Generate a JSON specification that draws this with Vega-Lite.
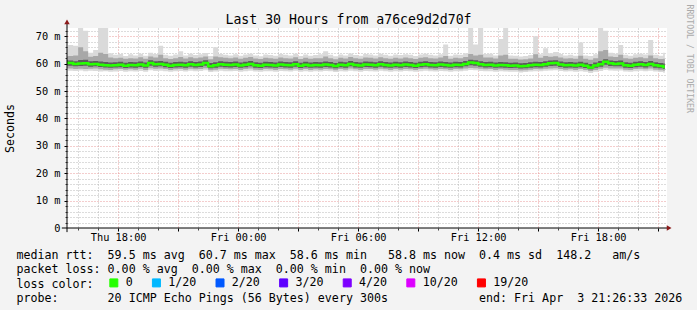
{
"$schema": "https://vega.github.io/schema/vega-lite/v6.json",
"width": 600, "height": 200,
"autosize": {"type": "none"},
"padding": {"left": 67, "top": 28, "right": 30, "bottom": 82},
"background": "#f3f3f3",
"config": {"view": {"fill": "#ffffff", "stroke": null},
  "axis": {"labelFont": "DejaVu Sans Mono", "titleFont": "DejaVu Sans Mono", "labelColor": "#000000", "titleColor": "#000000", "titleFontWeight": "normal"}},
"datasets": {"ping": [
{"t":"2026-04-02T15:15:00Z","m":60.3,"a":57.6,"b":65.5,"c":58.3,"d":62.6,"e":59.3,"f":61.2},
{"t":"2026-04-02T15:30:00Z","m":60.2,"a":57.4,"b":66.8,"c":58.2,"d":62.8,"e":59.2,"f":61.1},
{"t":"2026-04-02T15:45:00Z","m":59.9,"a":57.3,"b":66.5,"c":58.0,"d":63.0,"e":59.0,"f":60.9},
{"t":"2026-04-02T16:00:00Z","m":60.0,"a":57.5,"b":73.0,"c":58.1,"d":66.0,"e":59.1,"f":61.3},
{"t":"2026-04-02T16:15:00Z","m":60.1,"a":57.2,"b":72.0,"c":58.0,"d":64.5,"e":59.2,"f":61.4},
{"t":"2026-04-02T16:30:00Z","m":59.8,"a":57.4,"b":64.0,"c":58.1,"d":62.5,"e":58.9,"f":60.9},
{"t":"2026-04-02T16:45:00Z","m":59.9,"a":57.3,"b":65.0,"c":58.2,"d":62.8,"e":59.0,"f":61.0},
{"t":"2026-04-02T17:00:00Z","m":59.6,"a":57.1,"b":73.0,"c":57.9,"d":64.0,"e":58.8,"f":60.8},
{"t":"2026-04-02T17:15:00Z","m":59.4,"a":57.2,"b":73.0,"c":57.8,"d":63.5,"e":58.6,"f":60.6},
{"t":"2026-04-02T17:30:00Z","m":59.3,"a":57.0,"b":63.8,"c":57.7,"d":62.2,"e":58.5,"f":60.4},
{"t":"2026-04-02T17:45:00Z","m":59.4,"a":57.1,"b":63.2,"c":57.9,"d":62.0,"e":58.6,"f":60.5},
{"t":"2026-04-02T18:00:00Z","m":59.6,"a":57.3,"b":63.5,"c":58.0,"d":62.1,"e":58.7,"f":60.7},
{"t":"2026-04-02T18:15:00Z","m":59.2,"a":57.0,"b":62.8,"c":57.8,"d":61.8,"e":58.4,"f":60.3},
{"t":"2026-04-02T18:30:00Z","m":59.5,"a":57.2,"b":63.4,"c":57.9,"d":62.0,"e":58.6,"f":60.6},
{"t":"2026-04-02T18:45:00Z","m":59.4,"a":57.1,"b":63.0,"c":57.8,"d":61.9,"e":58.5,"f":60.5},
{"t":"2026-04-02T19:00:00Z","m":59.7,"a":57.3,"b":63.6,"c":58.1,"d":62.3,"e":58.8,"f":60.8},
{"t":"2026-04-02T19:15:00Z","m":59.3,"a":57.0,"b":62.9,"c":57.7,"d":61.8,"e":58.5,"f":60.4},
{"t":"2026-04-02T19:30:00Z","m":60.2,"a":57.6,"b":64.0,"c":58.3,"d":62.6,"e":59.2,"f":61.2},
{"t":"2026-04-02T19:45:00Z","m":59.8,"a":57.3,"b":63.5,"c":58.1,"d":62.2,"e":58.9,"f":60.9},
{"t":"2026-04-02T20:00:00Z","m":59.9,"a":57.4,"b":66.5,"c":58.2,"d":63.2,"e":59.0,"f":61.0},
{"t":"2026-04-02T20:15:00Z","m":59.6,"a":57.2,"b":63.2,"c":58.0,"d":62.0,"e":58.7,"f":60.7},
{"t":"2026-04-02T20:30:00Z","m":59.2,"a":57.0,"b":62.9,"c":57.7,"d":61.7,"e":58.4,"f":60.3},
{"t":"2026-04-02T20:45:00Z","m":59.5,"a":57.2,"b":63.3,"c":57.9,"d":62.0,"e":58.6,"f":60.6},
{"t":"2026-04-02T21:00:00Z","m":59.6,"a":57.3,"b":64.5,"c":58.0,"d":62.4,"e":58.7,"f":60.7},
{"t":"2026-04-02T21:15:00Z","m":59.4,"a":57.1,"b":63.0,"c":57.8,"d":61.9,"e":58.5,"f":60.5},
{"t":"2026-04-02T21:30:00Z","m":59.8,"a":57.4,"b":63.6,"c":58.1,"d":62.3,"e":58.9,"f":60.9},
{"t":"2026-04-02T21:45:00Z","m":59.5,"a":57.2,"b":63.1,"c":57.9,"d":62.0,"e":58.6,"f":60.6},
{"t":"2026-04-02T22:00:00Z","m":59.7,"a":57.3,"b":63.4,"c":58.0,"d":62.2,"e":58.8,"f":60.8},
{"t":"2026-04-02T22:15:00Z","m":60.2,"a":57.6,"b":63.9,"c":58.3,"d":62.6,"e":59.2,"f":61.2},
{"t":"2026-04-02T22:30:00Z","m":59.0,"a":56.9,"b":62.8,"c":57.6,"d":61.6,"e":58.3,"f":60.2},
{"t":"2026-04-02T22:45:00Z","m":59.4,"a":57.1,"b":66.0,"c":57.8,"d":62.6,"e":58.5,"f":60.5},
{"t":"2026-04-02T23:00:00Z","m":59.8,"a":57.4,"b":63.5,"c":58.1,"d":62.3,"e":58.9,"f":60.9},
{"t":"2026-04-02T23:15:00Z","m":59.6,"a":57.2,"b":63.2,"c":58.0,"d":62.1,"e":58.7,"f":60.7},
{"t":"2026-04-02T23:30:00Z","m":59.5,"a":57.2,"b":63.0,"c":57.9,"d":62.0,"e":58.6,"f":60.6},
{"t":"2026-04-02T23:45:00Z","m":59.7,"a":57.3,"b":63.4,"c":58.0,"d":62.2,"e":58.8,"f":60.8},
{"t":"2026-04-03T00:00:00Z","m":59.3,"a":57.0,"b":62.9,"c":57.7,"d":61.8,"e":58.5,"f":60.4},
{"t":"2026-04-03T00:15:00Z","m":59.6,"a":57.2,"b":63.3,"c":58.0,"d":62.1,"e":58.7,"f":60.7},
{"t":"2026-04-03T00:30:00Z","m":59.9,"a":57.4,"b":63.6,"c":58.2,"d":62.4,"e":59.0,"f":61.0},
{"t":"2026-04-03T00:45:00Z","m":59.4,"a":57.1,"b":63.0,"c":57.8,"d":61.9,"e":58.5,"f":60.5},
{"t":"2026-04-03T01:00:00Z","m":59.2,"a":57.0,"b":62.7,"c":57.7,"d":61.7,"e":58.4,"f":60.3},
{"t":"2026-04-03T01:15:00Z","m":59.6,"a":57.2,"b":63.3,"c":58.0,"d":62.1,"e":58.7,"f":60.7},
{"t":"2026-04-03T01:30:00Z","m":59.5,"a":57.2,"b":63.1,"c":57.9,"d":62.0,"e":58.6,"f":60.6},
{"t":"2026-04-03T01:45:00Z","m":59.3,"a":57.0,"b":62.9,"c":57.7,"d":61.8,"e":58.5,"f":60.4},
{"t":"2026-04-03T02:00:00Z","m":59.7,"a":57.3,"b":63.5,"c":58.0,"d":62.2,"e":58.8,"f":60.8},
{"t":"2026-04-03T02:15:00Z","m":59.5,"a":57.2,"b":63.2,"c":57.9,"d":62.0,"e":58.6,"f":60.6},
{"t":"2026-04-03T02:30:00Z","m":59.4,"a":57.1,"b":63.0,"c":57.8,"d":61.9,"e":58.5,"f":60.5},
{"t":"2026-04-03T02:45:00Z","m":59.8,"a":57.4,"b":63.6,"c":58.1,"d":62.3,"e":58.9,"f":60.9},
{"t":"2026-04-03T03:00:00Z","m":59.2,"a":57.0,"b":62.8,"c":57.7,"d":61.7,"e":58.4,"f":60.3},
{"t":"2026-04-03T03:15:00Z","m":59.6,"a":57.2,"b":63.3,"c":58.0,"d":62.1,"e":58.7,"f":60.7},
{"t":"2026-04-03T03:30:00Z","m":59.3,"a":57.0,"b":62.9,"c":57.7,"d":61.8,"e":58.5,"f":60.4},
{"t":"2026-04-03T03:45:00Z","m":59.5,"a":57.2,"b":63.1,"c":57.9,"d":62.0,"e":58.6,"f":60.6},
{"t":"2026-04-03T04:00:00Z","m":59.4,"a":57.1,"b":63.4,"c":57.8,"d":62.0,"e":58.5,"f":60.5},
{"t":"2026-04-03T04:15:00Z","m":59.7,"a":57.3,"b":64.5,"c":58.0,"d":62.6,"e":58.8,"f":60.8},
{"t":"2026-04-03T04:30:00Z","m":59.5,"a":57.2,"b":63.2,"c":57.9,"d":62.0,"e":58.6,"f":60.6},
{"t":"2026-04-03T04:45:00Z","m":59.1,"a":56.9,"b":62.7,"c":57.6,"d":61.6,"e":58.3,"f":60.2},
{"t":"2026-04-03T05:00:00Z","m":59.6,"a":57.2,"b":63.3,"c":58.0,"d":62.1,"e":58.7,"f":60.7},
{"t":"2026-04-03T05:15:00Z","m":59.4,"a":57.1,"b":63.0,"c":57.8,"d":61.9,"e":58.5,"f":60.5},
{"t":"2026-04-03T05:30:00Z","m":59.9,"a":57.4,"b":63.7,"c":58.2,"d":62.4,"e":59.0,"f":61.0},
{"t":"2026-04-03T05:45:00Z","m":59.5,"a":57.2,"b":63.1,"c":57.9,"d":62.0,"e":58.6,"f":60.6},
{"t":"2026-04-03T06:00:00Z","m":59.3,"a":57.0,"b":62.9,"c":57.7,"d":61.8,"e":58.5,"f":60.4},
{"t":"2026-04-03T06:15:00Z","m":59.7,"a":57.3,"b":63.5,"c":58.0,"d":62.2,"e":58.8,"f":60.8},
{"t":"2026-04-03T06:30:00Z","m":59.6,"a":57.2,"b":63.3,"c":58.0,"d":62.1,"e":58.7,"f":60.7},
{"t":"2026-04-03T06:45:00Z","m":59.4,"a":57.1,"b":63.0,"c":57.8,"d":61.9,"e":58.5,"f":60.5},
{"t":"2026-04-03T07:00:00Z","m":59.8,"a":57.4,"b":63.6,"c":58.1,"d":62.3,"e":58.9,"f":60.9},
{"t":"2026-04-03T07:15:00Z","m":59.5,"a":57.2,"b":63.2,"c":57.9,"d":62.0,"e":58.6,"f":60.6},
{"t":"2026-04-03T07:30:00Z","m":59.3,"a":57.0,"b":62.9,"c":57.7,"d":61.8,"e":58.5,"f":60.4},
{"t":"2026-04-03T07:45:00Z","m":59.6,"a":57.2,"b":63.3,"c":58.0,"d":62.1,"e":58.7,"f":60.7},
{"t":"2026-04-03T08:00:00Z","m":59.4,"a":57.1,"b":63.1,"c":57.8,"d":61.9,"e":58.5,"f":60.5},
{"t":"2026-04-03T08:15:00Z","m":59.7,"a":57.3,"b":63.4,"c":58.0,"d":62.2,"e":58.8,"f":60.8},
{"t":"2026-04-03T08:30:00Z","m":59.5,"a":57.2,"b":63.2,"c":57.9,"d":62.0,"e":58.6,"f":60.6},
{"t":"2026-04-03T08:45:00Z","m":59.2,"a":57.0,"b":62.8,"c":57.7,"d":61.7,"e":58.4,"f":60.3},
{"t":"2026-04-03T09:00:00Z","m":59.6,"a":57.2,"b":63.3,"c":58.0,"d":62.1,"e":58.7,"f":60.7},
{"t":"2026-04-03T09:15:00Z","m":59.8,"a":57.4,"b":63.6,"c":58.1,"d":62.3,"e":58.9,"f":60.9},
{"t":"2026-04-03T09:30:00Z","m":59.5,"a":57.2,"b":63.2,"c":57.9,"d":62.0,"e":58.6,"f":60.6},
{"t":"2026-04-03T09:45:00Z","m":59.4,"a":57.1,"b":63.0,"c":57.8,"d":61.9,"e":58.5,"f":60.5},
{"t":"2026-04-03T10:00:00Z","m":59.7,"a":57.3,"b":63.4,"c":58.0,"d":62.2,"e":58.8,"f":60.8},
{"t":"2026-04-03T10:15:00Z","m":59.5,"a":57.2,"b":67.0,"c":57.9,"d":62.8,"e":58.6,"f":60.6},
{"t":"2026-04-03T10:30:00Z","m":59.3,"a":57.0,"b":62.9,"c":57.7,"d":61.8,"e":58.5,"f":60.4},
{"t":"2026-04-03T10:45:00Z","m":59.6,"a":57.2,"b":63.3,"c":58.0,"d":62.1,"e":58.7,"f":60.7},
{"t":"2026-04-03T11:00:00Z","m":59.5,"a":57.2,"b":63.2,"c":57.9,"d":62.0,"e":58.6,"f":60.6},
{"t":"2026-04-03T11:15:00Z","m":59.9,"a":57.4,"b":63.8,"c":58.2,"d":62.4,"e":59.0,"f":61.0},
{"t":"2026-04-03T11:30:00Z","m":60.4,"a":57.7,"b":73.0,"c":58.4,"d":63.5,"e":59.4,"f":61.4},
{"t":"2026-04-03T11:45:00Z","m":60.2,"a":57.6,"b":67.0,"c":58.3,"d":63.0,"e":59.2,"f":61.2},
{"t":"2026-04-03T12:00:00Z","m":59.8,"a":57.3,"b":73.0,"c":58.1,"d":63.2,"e":58.9,"f":60.9},
{"t":"2026-04-03T12:15:00Z","m":59.5,"a":57.2,"b":63.5,"c":57.9,"d":62.2,"e":58.6,"f":60.6},
{"t":"2026-04-03T12:30:00Z","m":59.6,"a":57.2,"b":63.6,"c":58.0,"d":62.2,"e":58.7,"f":60.7},
{"t":"2026-04-03T12:45:00Z","m":59.3,"a":57.0,"b":63.0,"c":57.7,"d":61.9,"e":58.5,"f":60.4},
{"t":"2026-04-03T13:00:00Z","m":59.5,"a":57.2,"b":69.0,"c":57.9,"d":63.0,"e":58.6,"f":60.6},
{"t":"2026-04-03T13:15:00Z","m":59.4,"a":57.1,"b":73.0,"c":57.8,"d":63.2,"e":58.5,"f":60.5},
{"t":"2026-04-03T13:30:00Z","m":59.2,"a":57.0,"b":63.0,"c":57.7,"d":61.8,"e":58.4,"f":60.3},
{"t":"2026-04-03T13:45:00Z","m":59.3,"a":57.0,"b":62.9,"c":57.7,"d":61.8,"e":58.5,"f":60.4},
{"t":"2026-04-03T14:00:00Z","m":59.0,"a":56.8,"b":62.6,"c":57.5,"d":61.5,"e":58.2,"f":60.1},
{"t":"2026-04-03T14:15:00Z","m":59.1,"a":56.9,"b":62.8,"c":57.6,"d":61.6,"e":58.3,"f":60.2},
{"t":"2026-04-03T14:30:00Z","m":59.4,"a":57.1,"b":63.1,"c":57.8,"d":61.9,"e":58.5,"f":60.5},
{"t":"2026-04-03T14:45:00Z","m":59.6,"a":57.2,"b":70.0,"c":58.0,"d":63.4,"e":58.7,"f":60.7},
{"t":"2026-04-03T15:00:00Z","m":59.5,"a":57.2,"b":63.4,"c":57.9,"d":62.1,"e":58.6,"f":60.6},
{"t":"2026-04-03T15:15:00Z","m":59.8,"a":57.4,"b":65.6,"c":58.1,"d":62.8,"e":58.9,"f":60.9},
{"t":"2026-04-03T15:30:00Z","m":60.1,"a":57.5,"b":63.8,"c":58.2,"d":62.5,"e":59.1,"f":61.1},
{"t":"2026-04-03T15:45:00Z","m":60.2,"a":57.6,"b":64.2,"c":58.3,"d":62.7,"e":59.2,"f":61.2},
{"t":"2026-04-03T16:00:00Z","m":59.7,"a":57.3,"b":63.5,"c":58.0,"d":62.2,"e":58.8,"f":60.8},
{"t":"2026-04-03T16:15:00Z","m":59.4,"a":57.1,"b":63.0,"c":57.8,"d":61.9,"e":58.5,"f":60.5},
{"t":"2026-04-03T16:30:00Z","m":59.5,"a":57.2,"b":63.2,"c":57.9,"d":62.0,"e":58.6,"f":60.6},
{"t":"2026-04-03T16:45:00Z","m":59.3,"a":57.0,"b":62.9,"c":57.7,"d":61.8,"e":58.5,"f":60.4},
{"t":"2026-04-03T17:00:00Z","m":59.6,"a":57.2,"b":67.7,"c":58.0,"d":62.9,"e":58.7,"f":60.7},
{"t":"2026-04-03T17:15:00Z","m":59.2,"a":57.0,"b":63.0,"c":57.7,"d":61.8,"e":58.4,"f":60.3},
{"t":"2026-04-03T17:30:00Z","m":58.6,"a":56.6,"b":62.8,"c":57.3,"d":61.4,"e":57.9,"f":59.9},
{"t":"2026-04-03T17:45:00Z","m":59.3,"a":57.0,"b":63.4,"c":57.7,"d":62.0,"e":58.5,"f":60.4},
{"t":"2026-04-03T18:00:00Z","m":59.8,"a":57.3,"b":73.0,"c":58.1,"d":64.5,"e":58.9,"f":61.0},
{"t":"2026-04-03T18:15:00Z","m":60.7,"a":57.8,"b":72.0,"c":58.5,"d":65.0,"e":59.6,"f":61.6},
{"t":"2026-04-03T18:30:00Z","m":60.1,"a":57.5,"b":64.0,"c":58.2,"d":62.6,"e":59.1,"f":61.1},
{"t":"2026-04-03T18:45:00Z","m":59.9,"a":57.4,"b":63.6,"c":58.2,"d":62.4,"e":59.0,"f":61.0},
{"t":"2026-04-03T19:00:00Z","m":60.0,"a":57.5,"b":66.8,"c":58.2,"d":63.2,"e":59.0,"f":61.1},
{"t":"2026-04-03T19:15:00Z","m":59.4,"a":57.1,"b":63.2,"c":57.8,"d":62.0,"e":58.5,"f":60.5},
{"t":"2026-04-03T19:30:00Z","m":59.2,"a":57.0,"b":62.9,"c":57.7,"d":61.8,"e":58.4,"f":60.3},
{"t":"2026-04-03T19:45:00Z","m":59.6,"a":57.2,"b":63.4,"c":58.0,"d":62.1,"e":58.7,"f":60.7},
{"t":"2026-04-03T20:00:00Z","m":59.8,"a":57.4,"b":63.6,"c":58.1,"d":62.3,"e":58.9,"f":60.9},
{"t":"2026-04-03T20:15:00Z","m":59.5,"a":57.2,"b":63.3,"c":57.9,"d":62.0,"e":58.6,"f":60.6},
{"t":"2026-04-03T20:30:00Z","m":59.9,"a":57.4,"b":68.6,"c":58.2,"d":63.0,"e":59.0,"f":61.0},
{"t":"2026-04-03T20:45:00Z","m":59.4,"a":57.1,"b":63.2,"c":57.8,"d":62.0,"e":58.5,"f":60.5},
{"t":"2026-04-03T21:00:00Z","m":59.1,"a":56.9,"b":62.9,"c":57.6,"d":61.7,"e":58.3,"f":60.2},
{"t":"2026-04-03T21:15:00Z","m":58.8,"a":56.7,"b":64.0,"c":57.4,"d":61.8,"e":58.0,"f":60.0},
{"t":"2026-04-03T21:20:00Z","m":58.8,"a":56.7,"b":64.0,"c":57.4,"d":61.8,"e":58.0,"f":60.0}
]},
"data": {"name": "ping"},
"layer": [
 {"mark": {"type": "area", "interpolate": "step-after", "color": "#dadada", "clip": true},
  "encoding": {
   "x": {"field": "t", "type": "temporal",
     "scale": {"type": "utc", "domain": [1775143593000, 1775251593000]},
     "axis": {"orient": "bottom", "values": [1775145600000, 1775149200000, 1775156400000, 1775160000000, 1775167200000, 1775170800000, 1775178000000, 1775181600000, 1775188800000, 1775192400000, 1775199600000, 1775203200000, 1775210400000, 1775214000000, 1775221200000, 1775224800000, 1775232000000, 1775235600000, 1775242800000, 1775246400000], "grid": true, "gridColor": "#b8b8b8", "gridDash": [1, 2], "labels": false, "ticks": true, "tickSize": 2, "tickColor": "#444444", "domain": false, "title": null}},
   "y": {"field": "a", "type": "quantitative", "scale": {"domain": [0, 73], "nice": false, "zero": false},
     "axis": {"orient": "left", "values": [2,4,6,8,12,14,16,18,22,24,26,28,32,34,36,38,42,44,46,48,52,54,56,58,62,64,66,68,72], "grid": true, "gridColor": "#b8b8b8", "gridDash": [1, 2], "labels": false, "ticks": true, "tickSize": 2, "tickColor": "#444444", "domain": false, "title": null}},
   "y2": {"field": "b"}}},
 {"mark": {"type": "area", "interpolate": "step-after", "color": "#a8a8a8", "clip": true},
  "encoding": {
   "x": {"field": "t", "type": "temporal",
     "axis": {"orient": "bottom", "values": [1775152800000, 1775163600000, 1775174400000, 1775185200000, 1775196000000, 1775206800000, 1775217600000, 1775228400000, 1775239200000, 1775250000000], "grid": true, "gridColor": "#e89a9a", "gridDash": [1, 2], "labels": false, "ticks": true, "tickSize": 3, "tickColor": "#000000", "domain": false, "title": null}},
   "y": {"field": "c", "type": "quantitative",
     "axis": {"orient": "left", "values": [10,20,30,40,50,60,70], "grid": true, "gridColor": "#e89a9a", "gridDash": [1, 2], "labels": false, "ticks": true, "tickSize": 3, "tickColor": "#000000", "domain": false, "title": null}},
   "y2": {"field": "d"}}},
 {"mark": {"type": "area", "interpolate": "step-after", "color": "#5c5c5c", "clip": true},
  "encoding": {
   "x": {"field": "t", "type": "temporal",
     "axis": {"orient": "bottom", "values": [1775152800000, 1775174400000, 1775196000000, 1775217600000, 1775239200000], "format": "%a %H:%M", "labelFontSize": 10.3, "labelPadding": 4, "ticks": false, "grid": false, "domain": false, "zindex": 1,
       "title": ["median rtt:\u00a0\u00a059.5 ms avg\u00a0\u00a060.7 ms max\u00a0\u00a058.6 ms min\u00a0\u00a0\u00a058.8 ms now\u00a0\u00a00.4 ms sd\u00a0\u00a0148.2\u00a0\u00a0\u00a0am/s", "packet loss: 0.00 % avg\u00a0\u00a00.00 % max\u00a0\u00a00.00 % min\u00a0\u00a00.00 % now", "loss color:", "probe:\u00a0\u00a0\u00a0\u00a0\u00a0\u00a0\u00a020 ICMP Echo Pings (56 Bytes) every 300s\u00a0\u00a0\u00a0\u00a0\u00a0\u00a0\u00a0\u00a0\u00a0\u00a0\u00a0\u00a0\u00a0end: Fri Apr\u00a0\u00a03 21:26:33 2026"],
       "titleFontSize": 11.65, "titleAnchor": "start", "titleAlign": "left", "titleBaseline": "alphabetic", "titleX": -51, "titleY": 30, "titleLineHeight": 14.5}},
   "y": {"field": "e", "type": "quantitative",
     "axis": {"orient": "left", "values": [0,10,20,30,40,50,60,70], "labelExpr": "datum.value == 0 ? '0' : datum.value + ' m'", "labelFontSize": 10.3, "labelPadding": 7, "ticks": false, "grid": false, "domain": false, "zindex": 1,
       "title": "Seconds", "titleFontSize": 11.65, "titleAngle": -90, "titleX": -57, "titleY": 100, "titleAlign": "center", "titleBaseline": "middle"}},
   "y2": {"field": "f"}}},
 {"mark": {"type": "line", "interpolate": "step-after", "strokeWidth": 2.5, "clip": true},
  "encoding": {
   "x": {"field": "t", "type": "temporal", "axis": null},
   "y": {"field": "m", "type": "quantitative", "axis": null},
   "color": {"datum": "0", "type": "nominal",
     "scale": {"domain": ["0", "1/20", "2/20", "3/20", "4/20", "10/20", "19/20"], "range": ["#26ff00", "#00b8ff", "#0059ff", "#5e00ff", "#7e00ff", "#dd00ff", "#ff0000"]},
     "legend": {"orient": "none", "legendX": 41, "legendY": 249, "direction": "horizontal", "title": null, "padding": 0, "labelFont": "DejaVu Sans Mono", "labelFontSize": 11.65, "labelColor": "#000000", "labelOffset": 6, "columnPadding": 16.6, "symbolType": "square", "symbolSize": 64, "symbolStrokeColor": "#000000", "symbolStrokeWidth": 1,
       "encode": {"symbols": {"update": {"fill": {"scale": "color", "field": "value"}, "stroke": {"value": "#000000"}}}}}}}},
 {"data": {"values": [
   {"t1": "2026-04-02T15:26:33Z", "t2": "2026-04-02T15:26:33Z", "v1": -1.5, "v2": 74.5},
   {"t1": "2026-04-02T15:11:00Z", "t2": "2026-04-03T21:31:00Z", "v1": 0, "v2": 0}]},
  "mark": {"type": "rule", "color": "#000000", "strokeWidth": 1, "clip": false},
  "encoding": {
   "x": {"field": "t1", "type": "temporal",
     "axis": {"orient": "top", "labels": false, "ticks": false, "domain": false, "grid": false,
       "title": "Last 30 Hours from a76ce9d2d70f", "titleFontSize": 13.2, "titleX": 281, "titleY": -5, "titleAlign": "center", "titleBaseline": "alphabetic"}},
   "x2": {"field": "t2"},
   "y": {"field": "v1", "type": "quantitative",
     "axis": {"orient": "right", "labels": false, "ticks": false, "domain": false, "grid": false,
       "title": "RRDTOOL / TOBI OETIKER", "titleFontSize": 8.2, "titleColor": "#aaaaaa", "titleAngle": 90, "titleX": 21, "titleY": -24, "titleAlign": "left", "titleBaseline": "middle"}},
   "y2": {"field": "v2"}}},
 {"data": {"values": [
   {"t": "2026-04-03T21:33:00Z", "v": 0, "s": "triangle-right"},
   {"t": "2026-04-02T15:26:33Z", "v": 75.2, "s": "triangle-up"}]},
  "mark": {"type": "point", "filled": true, "color": "#8b1a1a", "opacity": 1, "size": 30, "clip": false},
  "encoding": {
   "x": {"field": "t", "type": "temporal", "axis": null},
   "y": {"field": "v", "type": "quantitative", "axis": null},
   "shape": {"field": "s", "type": "nominal", "scale": null}}}
],
"resolve": {"axis": {"x": "independent", "y": "independent"}}
}
